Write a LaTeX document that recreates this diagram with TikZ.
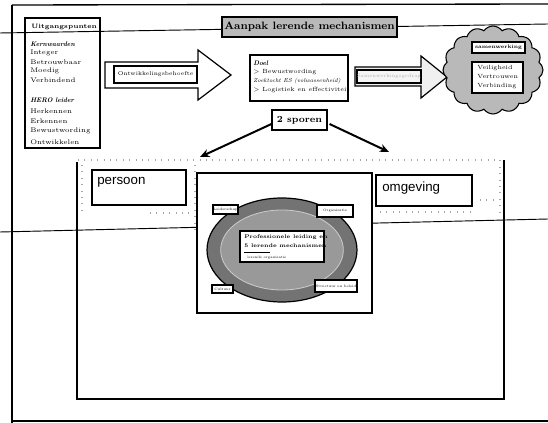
\documentclass[tikz,border=0pt]{standalone}
\usepackage{fontspec}
\newfontfamily\sansf{Liberation Sans}
\usetikzlibrary{shapes.symbols,shapes.geometric,arrows.meta}
\begin{document}
\begin{tikzpicture}[x=0.75pt,y=-0.75pt,
  frame/.style={line width=1pt},
  thinline/.style={line width=0.7pt},
  box/.style={draw=black,line width=0.8pt,fill=white,inner sep=0pt},
  txt/.style={inner sep=0pt,anchor=west,font=\fontsize{5}{6}\selectfont},
  txtb/.style={txt,font=\fontsize{4.7}{6}\selectfont\bfseries},
  txti/.style={txt,font=\fontsize{5}{6}\selectfont\itshape},
  dtxt/.style={txt,font=\fontsize{4.5}{5.5}\selectfont},
  tinytxt/.style={inner sep=0pt,font=\fontsize{2.6}{3}\selectfont},
  bigarrow/.style={line width=0.9pt},
  sporarrow/.style={line width=1.5pt,-{Stealth[length=7pt,width=6pt]}},
  speck/.style={gray!70,line width=0.8pt,loosely dotted},
  bigtxt/.style={inner sep=0pt,anchor=west,font=\sansf\fontsize{10}{12}\selectfont}
]
\useasboundingbox (0,0) rectangle (548,423);
% outer frame and scan lines
\draw[frame] (12,5) -- (548,4);
\draw[frame] (12,5) -- (12,423);
\draw[frame] (12,421) -- (548,421);
\draw[thinline] (0,33) -- (548,24);
\draw[thinline] (0,232) -- (548,219);

% Uitgangspunten
\node[box,fill=none,minimum width=56.25pt,minimum height=97.5pt] (uitg) at (62.5,83) {};
\node[txtb] (u0) at (31,27) {Uitgangspunten};
\node[txti,font=\fontsize{5}{6}\selectfont\bfseries\itshape] (u1) at (30,44) {Kernwaarden};
\node[txt] (u2) at (30,53) {Integer};
\node[txt] (u3) at (30,62) {Betrouwbaar};
\node[txt] (u4) at (30,71) {Moedig};
\node[txt] (u5) at (30,80) {Verbindend};
\node[txti,font=\fontsize{5}{6}\selectfont\bfseries\itshape] (u6) at (30,100) {HERO leider};
\node[txt] (u7) at (30,111) {Herkennen};
\node[txt] (u8) at (30,121) {Erkennen};
\node[txt] (u9) at (30,131) {Bewustwording};
\node[txt] (u10) at (30,142) {Ontwikkelen};

% title
\node[box,fill=gray!55,minimum width=131.25pt,minimum height=15pt,font=\fontsize{8}{9}\selectfont\bfseries] (title) at (309.5,27) {Aanpak lerende mechanismen};

% arrow 1
\draw[bigarrow,fill=white] (105,62) -- (198,62) -- (198,50) -- (231,75) -- (198,100) -- (198,88) -- (105,88) -- cycle;
\node[box,minimum width=62.25pt,minimum height=12.75pt,font=\fontsize{4.2}{5}\selectfont] (ontw) at (155.5,74.5) {Ontwikkelingsbehoefte};

% Doel
\node[box,minimum width=73.5pt,minimum height=34.5pt] (doel) at (299,78) {};
\node[dtxt,font=\fontsize{5}{6}\selectfont\bfseries\itshape] (d0) at (253,63) {Doel};
\node[dtxt] (d1) at (253,72.5) {> Bewustwording};
\node[dtxt,font=\fontsize{4.3}{5.5}\selectfont\itshape] (d2) at (253,81.5) {Zoektocht ES (volwassenheid)};
\node[dtxt] (d3) at (253,90.5) {> Logistiek en effectiviteit};

% arrow 2
\draw[bigarrow,fill=gray!12] (355,67) -- (421,67) -- (421,56) -- (447,77) -- (421,98) -- (421,86) -- (355,86) -- cycle;
\node[box,fill=gray!8,minimum width=45pt,minimum height=9.75pt,text=gray!60,font=\fontsize{3.7}{4.5}\selectfont] (samen) at (389,76.5) {Samenwerkingsgedrag};

% cloud
\node[cloud,cloud puffs=16,cloud puff arc=110,draw=black,line width=0.8pt,fill=gray!55,minimum width=75pt,minimum height=66pt,inner sep=0pt] (wolk) at (493,70) {};
\node[box,minimum width=39.75pt,minimum height=8.25pt,font=\fontsize{3.8}{4.5}\selectfont\bfseries] (wtop) at (498.5,47.5) {samenwerking};
\node[box,minimum width=38.25pt,minimum height=23.25pt] (wbot) at (497.5,77.5) {};
\node[dtxt] (w1) at (477,68) {Veiligheid};
\node[dtxt] (w2) at (477,77) {Vertrouwen};
\node[dtxt] (w3) at (477,86) {Verbinding};

% 2 sporen
\node[box,minimum width=41.25pt,minimum height=15pt,font=\fontsize{7}{8}\selectfont\bfseries] (sporen) at (299.5,120) {2 sporen};
\coordinate (lend) at (200,157);
\coordinate (rend) at (389,152);
\draw[sporarrow] (sporen.west) ++(0,4) -- (lend);
\draw[sporarrow] (sporen.east) ++(2,4) -- (rend);

% big box
\draw[frame] (77,162) -- (77,399) -- (504,399) -- (504,160);
\draw[speck] (78,160) -- (500,160) -- (500,215);
\draw[speck] (82,165) -- (82,215);
\draw[speck] (150,213) -- (192,213);
\draw[speck] (195,165) -- (195,230);
\draw[speck] (380,212) -- (470,212);
\draw[speck] (480,200) -- (495,200);

\node[box,minimum width=70.5pt,minimum height=26.25pt] (persoon) at (139,187.5) {};
\node[bigtxt] (ptxt) at (97,182) {persoon};
\node[box,minimum width=72pt,minimum height=23.25pt] (omgeving) at (424,190.5) {};
\node[bigtxt] (otxt) at (382,188) {omgeving};

% inner rectangle and ellipse
\node[box,minimum width=131.25pt,minimum height=105pt] (inner) at (284.5,243) {};
\node[ellipse,draw=black,line width=0.9pt,fill=black!55,minimum width=112.5pt,minimum height=78pt,inner sep=0pt] (ell) at (282,250) {};
\node[ellipse,draw=gray!40,line width=0.6pt,fill=black!40,minimum width=92pt,minimum height=60pt,inner sep=0pt] (ell2) at (282,250) {};
\node[box,minimum width=63pt,minimum height=23.25pt] (kern) at (282,246.5) {};
\node[txtb,font=\fontsize{4}{5}\selectfont\bfseries] (k1) at (244,237) {Professionele leiding en};
\node[txtb,font=\fontsize{4}{5}\selectfont\bfseries] (k2) at (244,245.5) {5 lerende mechanismen};
\draw[line width=1.2pt] (244,252.5) -- (270,252.5);
\node[tinytxt,anchor=west] (k3) at (247,258) {lerende organisatie};

\node[box,minimum width=18.75pt,minimum height=6.75pt] (lt) at (225.5,209.5) {};
\node[tinytxt] (ltt) at (lt) {Leiderschap};
\node[box,minimum width=27pt,minimum height=9pt] (rt) at (335,211) {};
\node[tinytxt] (rtt) at (rt) {Organisatie};
\node[box,minimum width=15.75pt,minimum height=6pt] (lb) at (222.5,289) {};
\node[tinytxt] (lbt) at (lb) {Cultuur};
\node[box,minimum width=31.5pt,minimum height=9pt] (rb) at (336,286) {};
\node[tinytxt] (rbt) at (rb) {Structuur en beleid};
\end{tikzpicture}
\end{document}
